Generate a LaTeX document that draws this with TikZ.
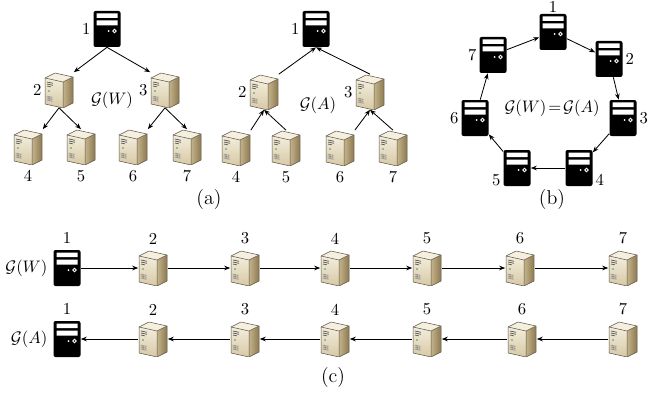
\documentclass[tikz,border=0pt]{standalone}
\usetikzlibrary{arrows.meta,positioning}
\definecolor{srvline}{HTML}{5E5444}
\definecolor{srvtop}{HTML}{F4EFDF}
\definecolor{srvfronta}{HTML}{F3EDDB}
\definecolor{srvfrontb}{HTML}{D6C9A6}
\definecolor{srvsidea}{HTML}{C4B38B}
\definecolor{srvsideb}{HTML}{8C7952}
\definecolor{srvled}{HTML}{3A9A6A}
\tikzset{
  darksrv/.style={rectangle, fill=black, rounded corners=1.2pt, inner sep=0pt,
    minimum width=16.2pt, minimum height=21.6pt,
    path picture={
      \begin{scope}[shift={(path picture bounding box.center)}, x=0.6pt, y=-0.6pt, sharp corners]
        \fill[white] (-10.5,-15.5) rectangle (10.5,-11) (-10.5,-8.5) rectangle (10.5,-3.5);
        \fill[white] (1.5,2) circle (1);
        \draw[white, line width=0.5pt] (7.5,2) circle (1.8);
      \end{scope}}},
  tansrv/.style={rectangle, inner sep=0pt, minimum width=17.4pt, minimum height=21pt,
    path picture={
      \begin{scope}[shift={(path picture bounding box.center)}, x=0.6pt, y=-0.6pt,
          line width=0.3pt, line join=round]
        \shade[top color=srvfronta, bottom color=srvfrontb] (-14,-12) -- (4,-8) -- (4,18) -- (-14,14) -- cycle;
        \shade[left color=srvsidea, right color=srvsideb] (4,-8) -- (14,-13) -- (14,13) -- (4,18) -- cycle;
        \fill[srvtop] (-14,-12) -- (-4,-17) -- (14,-13) -- (4,-8) -- cycle;
        \draw[srvline] (-14,-12) -- (-4,-17) -- (14,-13) -- (14,13) -- (4,18) -- (-14,14) -- cycle;
        \draw[srvline] (-14,-12) -- (4,-8) -- (14,-13) (4,-8) -- (4,18);
        \draw[black!70, line width=0.4pt] (-12,-8) -- (-6,-6.7) (-12,-6) -- (-6,-4.7) (-12,-4) -- (-8,-3.1);
        \fill[srvled] (-10,1) circle (0.8);
        \draw[black!45, line width=0.3pt] (-12.5,6) -- (-6.5,7.3) (-12.5,8) -- (-6.5,9.3) (-12.5,10) -- (-6.5,11.3)
          (-11,6.3) -- (-11,10.6) (-9.5,6.7) -- (-9.5,10.9) (-8,7) -- (-8,11.3);
      \end{scope}}},
  arr/.style={-{Stealth[length=3.6pt,width=2.8pt]}, line width=0.5pt},
  every label/.style={inner sep=1.5pt}
}
\begin{document}
\begin{tikzpicture}[x=0.6pt, y=-0.6pt]
\useasboundingbox (0,0) rectangle (657,393);
% (a) left tree, G(W)
\node[darksrv, label=left:1] (w1) at (107,29) {};
\node[tansrv, label=left:2] (w2) at (59,90) {};
\node[tansrv, label=left:3] (w3) at (165,90) {};
\node[tansrv, label={[label distance=1.5pt]below:4}] (w4) at (28,147) {};
\node[tansrv, label={[label distance=1.5pt]below:5}] (w5) at (81,147) {};
\node[tansrv, label={[label distance=1.5pt]below:6}] (w6) at (133,147) {};
\node[tansrv, label={[label distance=1.5pt]below:7}] (w7) at (187,147) {};
\node (gw) at (112,100) {$\mathcal{G}(W)$};
\draw[arr] (w1.south) -- (w2.north east);
\draw[arr] (w1.south) -- (w3.north west);
\draw[arr] (w2.south) -- (w4.north east);
\draw[arr] (w2.south) -- (w5.north);
\draw[arr] (w3.south) -- (w6.north east);
\draw[arr] (w3.south) -- (w7.north);
% (a) right tree, G(A)
\node[darksrv, label=left:1] (a1) at (316,29) {};
\node[tansrv, label=left:2] (a2) at (264,92) {};
\node[tansrv, label=left:3] (a3) at (370,92) {};
\node[tansrv, label={[label distance=1.5pt]below:4}] (a4) at (236,148) {};
\node[tansrv, label={[label distance=1.5pt]below:5}] (a5) at (286,148) {};
\node[tansrv, label={[label distance=1.5pt]below:6}] (a6) at (340,148) {};
\node[tansrv, label={[label distance=1.5pt]below:7}] (a7) at (393,148) {};
\node (ga) at (318,105) {$\mathcal{G}(A)$};
\draw[arr] (a2.north east) -- (a1.south);
\draw[arr] (a3.north) -- (a1.south);
\draw[arr] (a4.north east) -- (a2.south);
\draw[arr] (a5.north) -- (a2.south);
\draw[arr] (a6.north east) -- (a3.south);
\draw[arr] (a7.north) -- (a3.south);
\node (capa) at (209,200) {\large (a)};
% (b) ring
\node[darksrv, label={[inner sep=0pt, label distance=0.3pt]above:1}] (r1) at (553,32) {};
\node[darksrv, label=right:2] (r2) at (609,59) {};
\node[darksrv, label=right:3] (r3) at (623,118) {};
\node[darksrv, label=-15:4] (r4) at (579,168) {};
\node[darksrv, label=195:5] (r5) at (517,168) {};
\node[darksrv, label=left:6] (r6) at (475,118) {};
\node[darksrv, label=left:7] (r7) at (493,55) {};
\node (gb) at (552,108) {$\mathcal{G}(W)\!=\!\mathcal{G}(A)$};
\draw[arr] (r1) -- (r2);
\draw[arr] (r2) -- (r3);
\draw[arr] (r3) -- (r4);
\draw[arr] (r4) -- (r5);
\draw[arr] (r5) -- (r6);
\draw[arr] (r6) -- (r7);
\draw[arr] (r7) -- (r1);
\node (capb) at (552,200) {\large (b)};
% (c) chains
\node[darksrv, label={[label distance=2pt]above:1}] (cw1) at (67,268) {};
\node[tansrv, label={[label distance=2pt]above:2}] (cw2) at (153,268) {};
\node[tansrv, label={[label distance=2pt]above:3}] (cw3) at (245,268) {};
\node[tansrv, label={[label distance=2pt]above:4}] (cw4) at (335,268) {};
\node[tansrv, label={[label distance=2pt]above:5}] (cw5) at (427,268) {};
\node[tansrv, label={[label distance=2pt]above:6}] (cw6) at (520,268) {};
\node[tansrv, label={[label distance=2pt]above:7}] (cw7) at (623,268) {};
\node[left=0pt of cw1] (gcw) {$\mathcal{G}(W)$};
\draw[arr] (cw1) -- (cw2);
\draw[arr] (cw2) -- (cw3);
\draw[arr] (cw3) -- (cw4);
\draw[arr] (cw4) -- (cw5);
\draw[arr] (cw5) -- (cw6);
\draw[arr] (cw6) -- (cw7);
\node[darksrv, label={[label distance=2pt]above:1}] (ca1) at (67,339) {};
\node[tansrv, label={[label distance=2pt]above:2}] (ca2) at (153,339) {};
\node[tansrv, label={[label distance=2pt]above:3}] (ca3) at (245,339) {};
\node[tansrv, label={[label distance=2pt]above:4}] (ca4) at (335,339) {};
\node[tansrv, label={[label distance=2pt]above:5}] (ca5) at (427,339) {};
\node[tansrv, label={[label distance=2pt]above:6}] (ca6) at (522,339) {};
\node[tansrv, label={[label distance=2pt]above:7}] (ca7) at (623,339) {};
\node[left=0pt of ca1] (gca) {$\mathcal{G}(A)$};
\draw[arr] (ca7) -- (ca6);
\draw[arr] (ca6) -- (ca5);
\draw[arr] (ca5) -- (ca4);
\draw[arr] (ca4) -- (ca3);
\draw[arr] (ca3) -- (ca2);
\draw[arr] (ca2) -- (ca1);
\node (capc) at (333,378) {\large (c)};
\end{tikzpicture}
\end{document}
